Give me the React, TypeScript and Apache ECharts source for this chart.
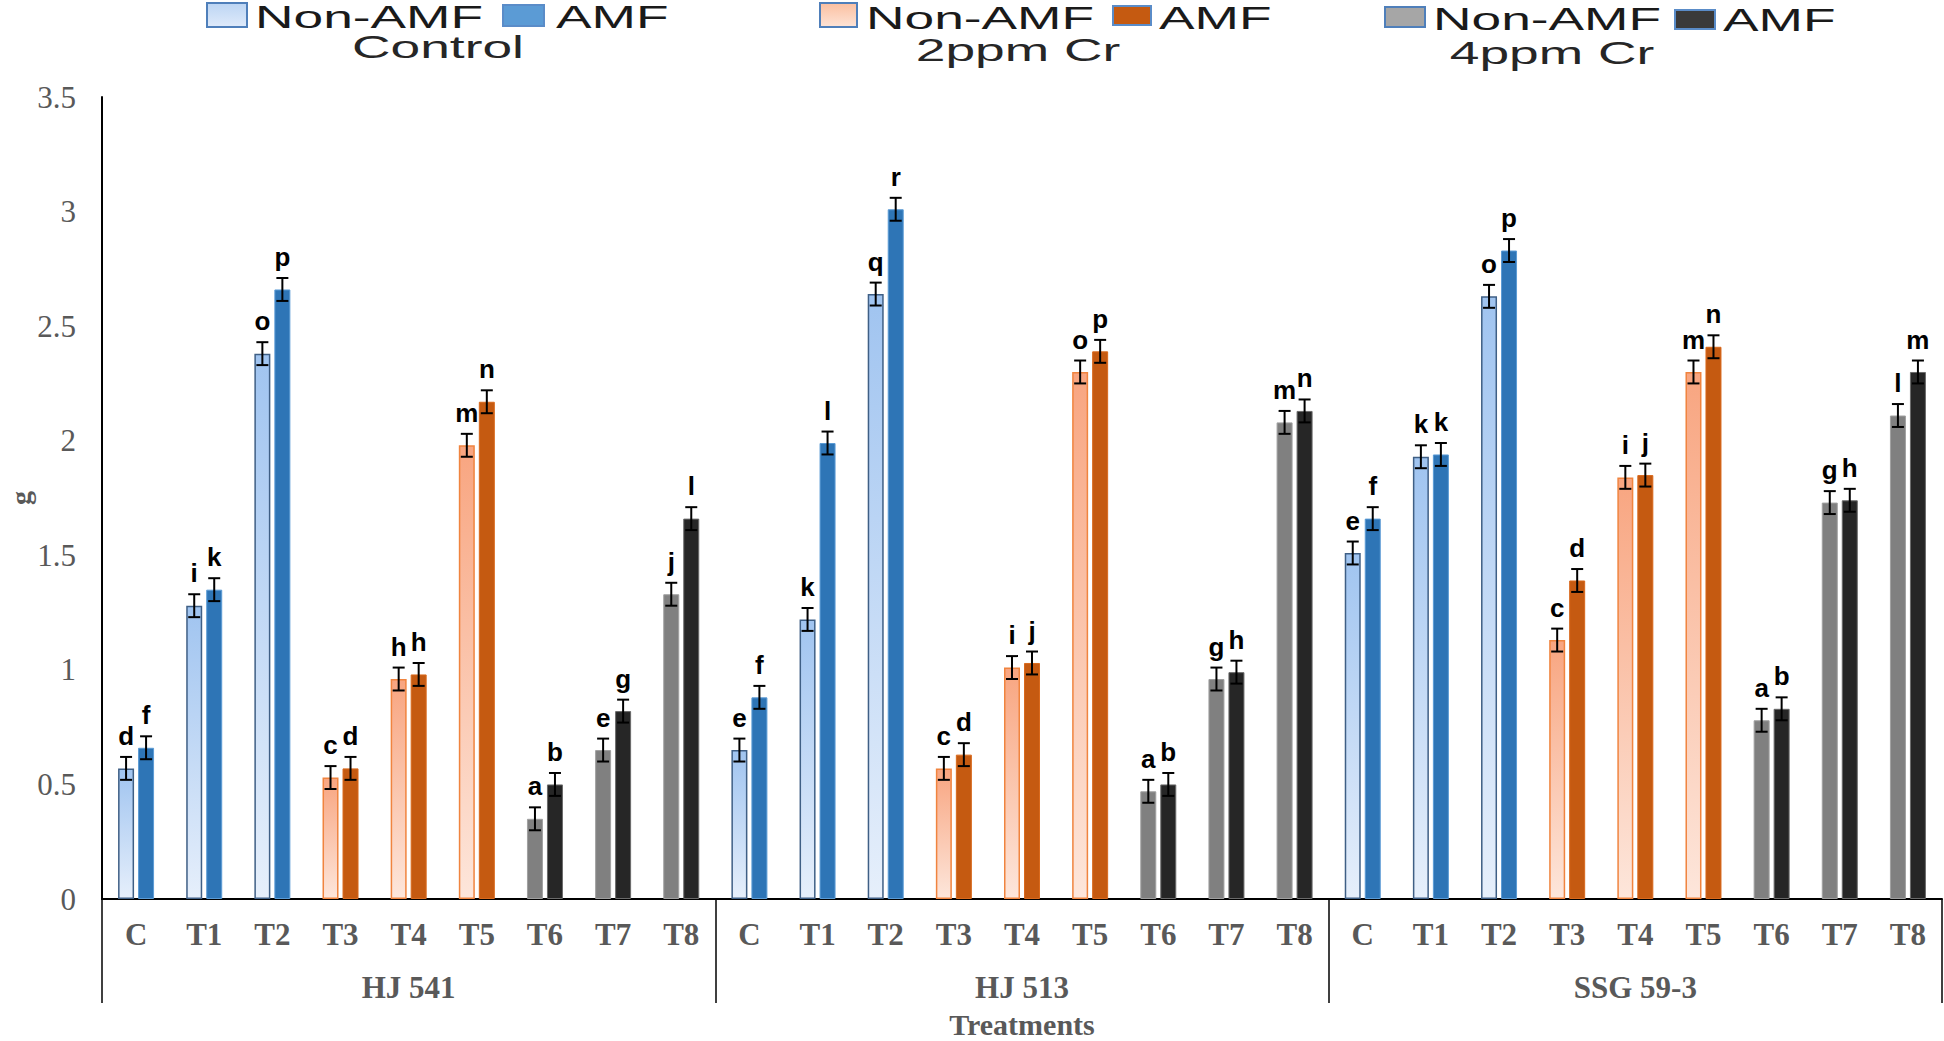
import React, { useEffect, useRef } from 'react';
import * as echarts from 'echarts';

// ---------------- data ----------------
const groups = ['HJ 541', 'HJ 513', 'SSG 59-3'];
const treatments = ['C', 'T1', 'T2', 'T3', 'T4', 'T5', 'T6', 'T7', 'T8'];
const seriesNames = ['Non-AMF', 'AMF'];
const levelNames = ['Control', '2ppm Cr', '4ppm Cr'];

const nonAmf = [
  0.57, 1.28, 2.38, 0.53, 0.96, 1.98, 0.35, 0.65, 1.33,
  0.65, 1.22, 2.64, 0.57, 1.01, 2.30, 0.47, 0.96, 2.08,
  1.51, 1.93, 2.63, 1.13, 1.84, 2.30, 0.78, 1.73, 2.11,
];
const amf = [
  0.66, 1.35, 2.66, 0.57, 0.98, 2.17, 0.50, 0.82, 1.66,
  0.88, 1.99, 3.01, 0.63, 1.03, 2.39, 0.50, 0.99, 2.13,
  1.66, 1.94, 2.83, 1.39, 1.85, 2.41, 0.83, 1.74, 2.30,
];
const nonAmfErr = [
  0.05, 0.05, 0.05, 0.05, 0.05, 0.05, 0.05, 0.05, 0.05,
  0.05, 0.05, 0.05, 0.05, 0.05, 0.05, 0.05, 0.05, 0.05,
  0.05, 0.05, 0.05, 0.05, 0.05, 0.05, 0.05, 0.05, 0.05,
];
const amfErr = [
  0.05, 0.05, 0.05, 0.05, 0.05, 0.05, 0.05, 0.05, 0.05,
  0.05, 0.05, 0.05, 0.05, 0.05, 0.05, 0.05, 0.05, 0.05,
  0.05, 0.05, 0.05, 0.05, 0.05, 0.05, 0.05, 0.05, 0.05,
];
const nonAmfLetters = [
  'd', 'i', 'o', 'c', 'h', 'm', 'a', 'e', 'j',
  'e', 'k', 'q', 'c', 'i', 'o', 'a', 'g', 'm',
  'e', 'k', 'o', 'c', 'i', 'm', 'a', 'g', 'l',
];
const amfLetters = [
  'f', 'k', 'p', 'd', 'h', 'n', 'b', 'g', 'l',
  'f', 'l', 'r', 'd', 'j', 'p', 'b', 'h', 'n',
  'f', 'k', 'p', 'd', 'j', 'n', 'b', 'h', 'm',
];
const yMin = 0;
const yMax = 3.5;
const yStep = 0.5;

// ---------------- styles ----------------
const SERIF = '"Liberation Serif", "Times New Roman", serif';
const SANS = '"Liberation Sans", Arial, sans-serif';
const AXIS_TEXT = '#595959';

const grad = (top: string, bottom: string) =>
  new echarts.graphic.LinearGradient(0, 0, 0, 1, [
    { offset: 0, color: top },
    { offset: 1, color: bottom },
  ]);

const nonStyles = [
  () => ({ color: grad('#a0c4f0', '#e6effb'), borderColor: '#3f5f85', borderWidth: 1.5 }),
  () => ({ color: grad('#f8a580', '#fde6db'), borderColor: '#f0843f', borderWidth: 1.5 }),
  () => ({ color: '#808080', borderColor: '#a0a0a0', borderWidth: 1 }),
];
const amfStyles = [
  () => ({ color: '#2e75b6', borderColor: '#5b9bd5', borderWidth: 1 }),
  () => ({ color: '#c55a11', borderColor: '#d9691c', borderWidth: 1 }),
  () => ({ color: '#262626', borderColor: '#6a6a6a', borderWidth: 1 }),
];
const legendBoxFill = [
  [() => grad('#bcd5f3', '#dfeafa'), () => '#5b9bd5'],
  [() => grad('#fbbfa0', '#fde3d6'), () => '#c55a11'],
  [() => '#a6a6a6', () => '#3a3a3a'],
];

const BAR_W = 16;
const BAR_GAP = 4;
const HALF = (BAR_W + BAR_GAP) / 2;

const levelOf = (i: number) => Math.floor((i % treatments.length) / 3);

function makeErrRender(offset: number, letters: string[]) {
  return (params: any, api: any) => {
    const idx = api.value(0);
    const v = api.value(1);
    const e = api.value(2);
    const x = api.coord([idx, v])[0] + offset;
    const yTop = api.coord([idx, v + e])[1];
    const yBot = api.coord([idx, v - e])[1];
    const st = { stroke: '#000', lineWidth: 2 };
    return {
      type: 'group',
      children: [
        { type: 'line', shape: { x1: x, y1: yTop, x2: x, y2: yBot }, style: st },
        { type: 'line', shape: { x1: x - 6, y1: yTop, x2: x + 6, y2: yTop }, style: st },
        { type: 'line', shape: { x1: x - 6, y1: yBot, x2: x + 6, y2: yBot }, style: st },
        {
          type: 'text',
          x,
          y: yTop - 8,
          style: {
            text: letters[params.dataIndex],
            font: `bold 26px ${SANS}`,
            fill: '#000',
            align: 'center',
            verticalAlign: 'bottom',
          },
        },
      ],
    };
  };
}

// legend layout (positions only)
const legendLayout = [
  { box1: [207, 3, 40, 24], t1: [255, 17], box2: [503, 5, 41, 21], t2: [556, 17], sub: [438, 47] },
  { box1: [820, 3, 37, 24], t1: [866, 18], box2: [1113, 6, 38, 19], t2: [1159, 18], sub: [1018, 50] },
  { box1: [1385, 7, 40, 20], t1: [1433, 19], box2: [1675, 10, 40, 19], t2: [1723, 20], sub: [1552, 53] },
];
const LEG_SCALE = 1.72;
const LEG_FONT = `31px ${SANS}`;

function buildLegend() {
  const els: any[] = [];
  legendLayout.forEach((L, k) => {
    els.push({
      type: 'rect',
      shape: { x: L.box1[0], y: L.box1[1], width: L.box1[2], height: L.box1[3] },
      style: { fill: legendBoxFill[k][0](), stroke: '#4f7fba', lineWidth: 2 },
    });
    els.push({
      type: 'text', x: L.t1[0], y: L.t1[1], scaleX: LEG_SCALE,
      style: { text: seriesNames[0], font: LEG_FONT, fill: '#1a1a1a', align: 'left', verticalAlign: 'middle' },
    });
    els.push({
      type: 'rect',
      shape: { x: L.box2[0], y: L.box2[1], width: L.box2[2], height: L.box2[3] },
      style: { fill: legendBoxFill[k][1](), stroke: '#5a8cc8', lineWidth: 2 },
    });
    els.push({
      type: 'text', x: L.t2[0], y: L.t2[1], scaleX: LEG_SCALE,
      style: { text: seriesNames[1], font: LEG_FONT, fill: '#1a1a1a', align: 'left', verticalAlign: 'middle' },
    });
    els.push({
      type: 'text', x: L.sub[0], y: L.sub[1], scaleX: LEG_SCALE,
      style: { text: levelNames[k], font: LEG_FONT, fill: '#262626', align: 'center', verticalAlign: 'middle' },
    });
  });
  return els;
}

export default function App() {
  const ref = useRef<HTMLDivElement>(null);

  useEffect(() => {
    document.body.style.margin = '0';
    if (!ref.current) return;
    const chart = echarts.init(ref.current, undefined, { renderer: 'svg' });

    const categories: string[] = [];
    groups.forEach(() => treatments.forEach((t) => categories.push(t)));

    const option: any = {
      animation: false,
      backgroundColor: '#ffffff',
      grid: { left: 102, right: 2, top: 97, bottom: 142, containLabel: false, outerBoundsMode: 'none' },
      xAxis: [
        {
          type: 'category',
          data: categories,
          position: 'bottom',
          axisLine: { show: true, lineStyle: { color: '#000', width: 2 } },
          axisTick: { show: false },
          axisLabel: {
            margin: 20,
            interval: 0,
            color: AXIS_TEXT,
            fontFamily: SERIF,
            fontWeight: 'bold',
            fontSize: 31,
          },
          name: 'Treatments',
          nameLocation: 'middle',
          nameGap: 110,
          nameMoveOverlap: false,
          nameTextStyle: { color: AXIS_TEXT, fontFamily: SERIF, fontWeight: 'bold', fontSize: 30 },
        },
        {
          type: 'category',
          data: groups,
          position: 'bottom',
          offset: 0,
          axisLine: { show: false },
          axisTick: { show: true, length: 104, lineStyle: { color: '#000', width: 1.5 } },
          axisLabel: {
            margin: 73,
            color: AXIS_TEXT,
            fontFamily: SERIF,
            fontWeight: 'bold',
            fontSize: 31,
          },
        },
      ],
      yAxis: {
        type: 'value',
        min: yMin,
        max: yMax,
        interval: yStep,
        axisLine: { show: true, lineStyle: { color: '#000', width: 2 } },
        axisTick: { show: false },
        splitLine: { show: false },
        axisLabel: { margin: 26, color: AXIS_TEXT, fontFamily: SERIF, fontSize: 31 },
        name: 'g',
        nameLocation: 'middle',
        nameGap: 82,
        nameMoveOverlap: false,
        nameTextStyle: {
          color: AXIS_TEXT,
          fontFamily: SERIF,
          fontWeight: 'bold',
          fontSize: 28,
          verticalAlign: 'middle',
        },
      },
      series: [
        {
          name: seriesNames[0],
          type: 'bar',
          barWidth: BAR_W,
          barGap: `${(BAR_GAP / BAR_W) * 100}%`,
          data: nonAmf.map((v, i) => ({ value: v, itemStyle: nonStyles[levelOf(i)]() })),
        },
        {
          name: seriesNames[1],
          type: 'bar',
          barWidth: BAR_W,
          barGap: `${(BAR_GAP / BAR_W) * 100}%`,
          data: amf.map((v, i) => ({ value: v, itemStyle: amfStyles[levelOf(i)]() })),
        },
        {
          type: 'custom',
          z: 5,
          renderItem: makeErrRender(-HALF, nonAmfLetters),
          data: nonAmf.map((v, i) => [i, v, nonAmfErr[i]]),
        },
        {
          type: 'custom',
          z: 5,
          renderItem: makeErrRender(HALF, amfLetters),
          data: amf.map((v, i) => [i, v, amfErr[i]]),
        },
      ],
      graphic: buildLegend(),
    };

    chart.setOption(option);
    return () => chart.dispose();
  }, []);

  return <div ref={ref} style={{ width: 1944, height: 1041 }} />;
}
